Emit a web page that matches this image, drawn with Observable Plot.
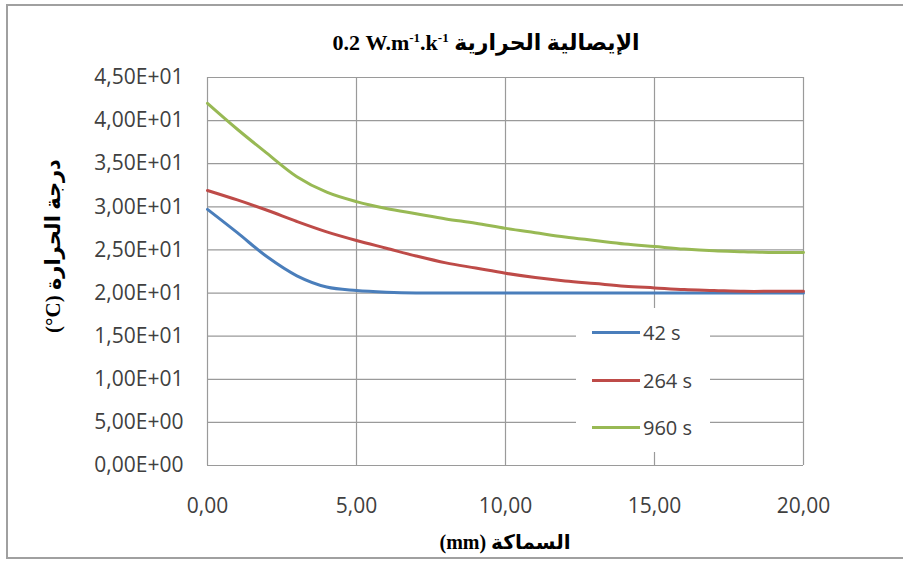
<!DOCTYPE html>
<html>
<head>
<meta charset="utf-8">
<script src="https://cdn.jsdelivr.net/npm/d3@7"></script>
<script src="https://cdn.jsdelivr.net/npm/@observablehq/plot@0.6"></script>
<style>
  html, body { margin: 0; padding: 0; background: #fff; }
  #wrap { position: relative; width: 903px; height: 562px; overflow: hidden; }
  #frame { position: absolute; left: 6px; top: 4px; width: 920px; height: 555px; border: 2px solid #a0a0a0; box-sizing: border-box; }
  #chart { position: absolute; left: 0; top: 0; }
  .title { position: absolute; font-family: "Liberation Serif", "DejaVu Sans", serif; font-weight: bold; color: #000; white-space: nowrap; }
  .ltr { direction: ltr; unicode-bidi: isolate; }
  #legend { position: absolute; left: 576px; top: 308px; width: 134px; height: 144px; background: #fff; }
  .lrow { position: absolute; left: 16px; height: 30px; display: flex; align-items: center; font-family: "Open Sans", sans-serif; font-size: 20px; color: #404040; }
  .lsw { width: 48px; height: 3px; margin-right: 3px; }
</style>
</head>
<body>
<div id="wrap">
  <div id="frame"></div>
  <div id="chart"></div>
  <div id="title" class="title" dir="rtl" style="font-size:22px; left:486px; top:43px; transform:translate(-50%,-50%);">الإيصالية الحرارية <span class="ltr">0.2 W.m<sup style="font-size:13px">-1</sup>.k<sup style="font-size:13px">-1</sup></span></div>
  <div id="ylab" class="title" dir="rtl" style="font-size:21px; left:53px; top:246px; transform:translate(-50%,-50%) rotate(-90deg);">درجة الحرارة <span class="ltr">(°C)</span></div>
  <div id="xlab" class="title" dir="rtl" style="font-size:20px; left:505px; top:542px; transform:translate(-50%,-50%);">السماكة <span class="ltr">(mm)</span></div>
  <div id="legend"></div>
</div>
<script>
// Data
const thickness = [0, 1, 2, 3, 4, 5, 6, 7, 8, 9, 10, 11, 12, 13, 14, 15, 16, 17, 18, 19, 20];
const temp42 = [29.7, 27.0, 24.2, 22.0, 20.7, 20.3, 20.1, 20.0, 20.0, 20.0, 20.0, 20.0, 20.0, 20.0, 20.0, 20.0, 20.0, 20.0, 20.0, 20.0, 20.0];
const temp264 = [31.9, 30.8, 29.6, 28.3, 27.1, 26.1, 25.2, 24.3, 23.5, 22.9, 22.3, 21.8, 21.4, 21.1, 20.8, 20.6, 20.4, 20.3, 20.2, 20.2, 20.2];
const temp960 = [42.0, 39.0, 36.2, 33.5, 31.7, 30.6, 29.8, 29.2, 28.6, 28.1, 27.5, 27.0, 26.5, 26.1, 25.7, 25.4, 25.1, 24.9, 24.8, 24.7, 24.7];
const seriesNames = ["42 s", "264 s", "960 s"];
const seriesColors = ["#4A7EBB", "#BE4B48", "#98B954"];
const xTicks = [0, 5, 10, 15, 20];
const yTicks = [0, 5, 10, 15, 20, 25, 30, 35, 40, 45];

const seriesValues = [temp42, temp264, temp960];
const rows = [];
seriesValues.forEach((vals, i) => {
  vals.forEach((v, j) => rows.push({x: thickness[j], y: v, s: seriesNames[i]}));
});

function fmtE(d) {
  if (d === 0) return "0,00E+00";
  const e = Math.floor(Math.log10(d) + 1e-12);
  const m = d / Math.pow(10, e);
  return m.toFixed(2).replace(".", ",") + "E" + (e < 0 ? "-" : "+") + String(Math.abs(e)).padStart(2, "0");
}

const chart = Plot.plot({
  width: 903,
  height: 562,
  marginLeft: 207,
  marginRight: 100,
  marginTop: 77,
  marginBottom: 97,
  style: {fontFamily: "Open Sans, sans-serif", fontSize: "21px", color: "#404040", background: "transparent"},
  x: {domain: [0, 20], ticks: xTicks, tickFormat: d => d.toFixed(2).replace(".", ","), label: null, tickSize: 0, tickPadding: 33},
  y: {domain: [0, 45], ticks: yTicks, tickFormat: fmtE, label: null, tickSize: 0, tickPadding: 24},
  color: {domain: seriesNames, range: seriesColors},
  marks: [
    Plot.gridY(yTicks, {stroke: "#9a9a9a", strokeOpacity: 1, strokeWidth: 1.2}),
    Plot.gridX(xTicks, {stroke: "#9a9a9a", strokeOpacity: 1, strokeWidth: 1.2}),
    Plot.line(rows, {x: "x", y: "y", z: "s", stroke: "s", strokeWidth: 3, curve: "catmull-rom"})
  ]
});
document.getElementById("chart").appendChild(chart);

const legend = document.getElementById("legend");
const rowTops = [9, 57, 104];
seriesNames.forEach((name, i) => {
  const r = document.createElement("div");
  r.className = "lrow";
  r.style.top = rowTops[i] + "px";
  const sw = document.createElement("div");
  sw.className = "lsw";
  sw.style.background = seriesColors[i];
  const t = document.createElement("span");
  t.textContent = name;
  r.appendChild(sw);
  r.appendChild(t);
  legend.appendChild(r);
});
</script>
</body>
</html>
